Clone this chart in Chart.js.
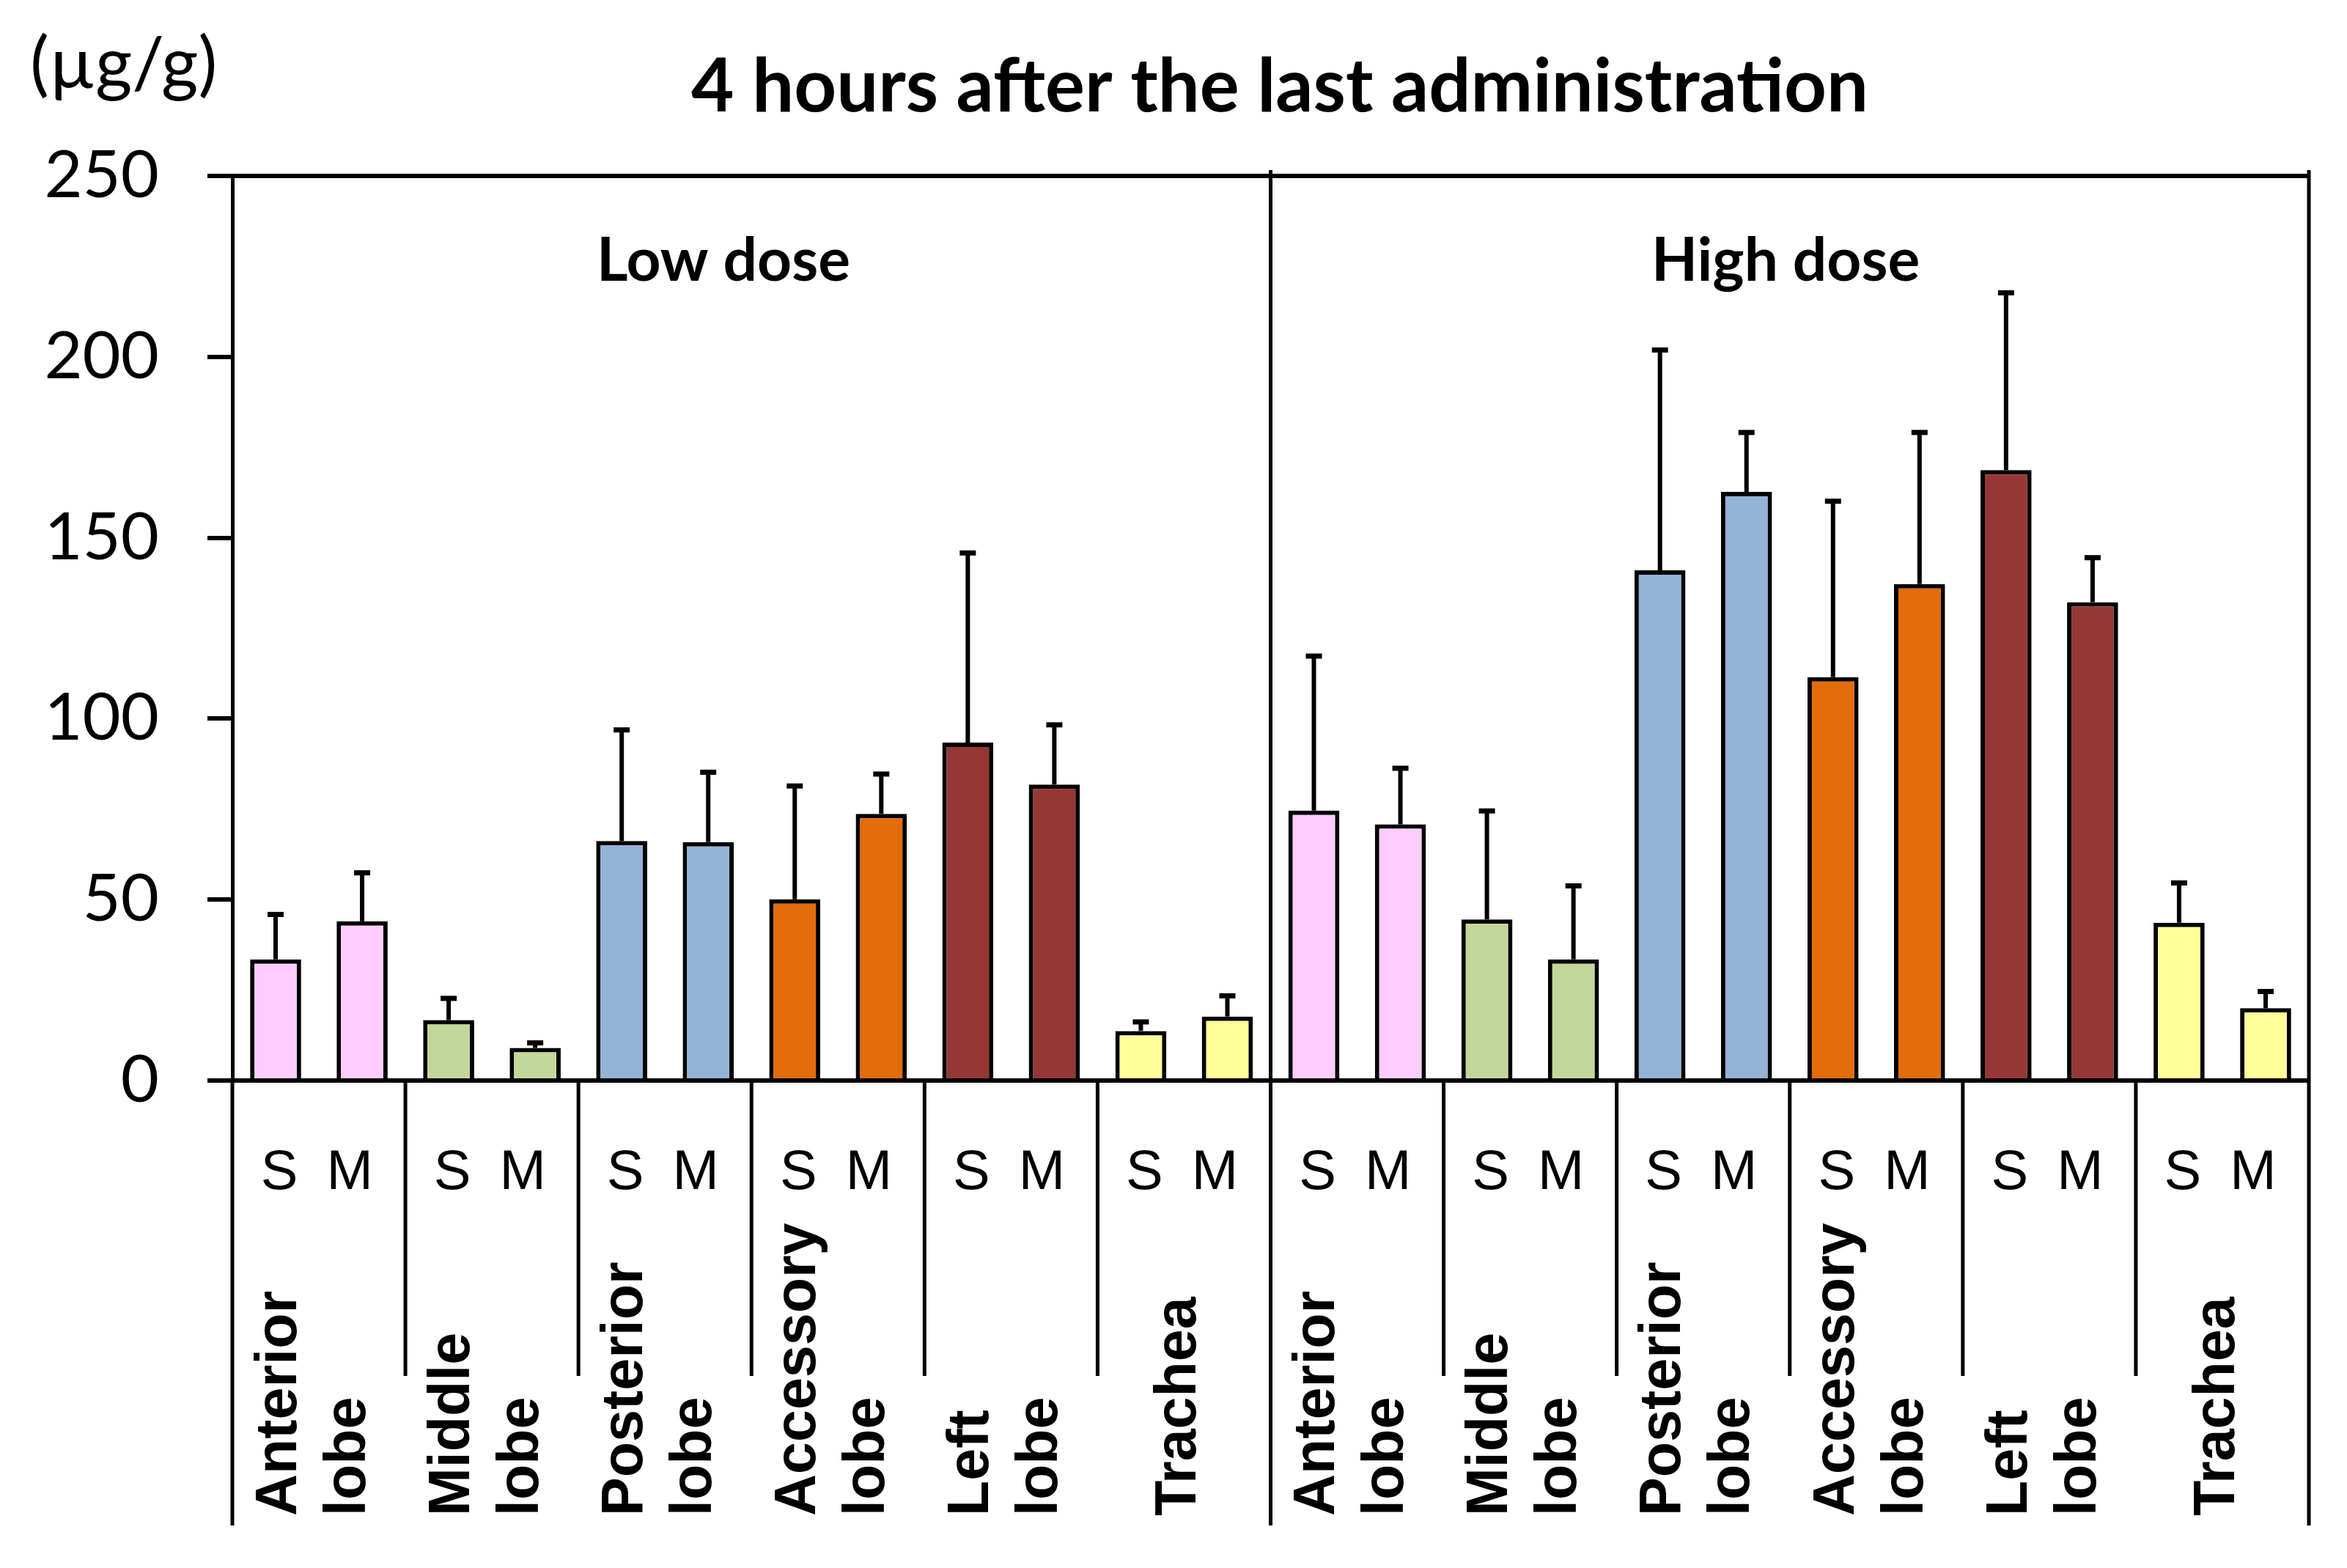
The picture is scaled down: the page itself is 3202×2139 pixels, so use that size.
<!DOCTYPE html>
<html>
<head>
<meta charset="utf-8">
<script src="https://cdn.jsdelivr.net/npm/chart.js@4.4.1/dist/chart.umd.min.js"></script>
<style>
  html, body { margin: 0; padding: 0; background: #fff; }
  #wrap { width: 3202px; height: 2139px; }
</style>
</head>
<body>
<div id="wrap"><canvas id="chart" width="3202" height="2139"></canvas></div>
<script>
// organs (one group of S/M bars each), repeated for both doses
var organs = [['Anterior', 'lobe'], ['Middle', 'lobe'], ['Posterior', 'lobe'], ['Accessory', 'lobe'], ['Left', 'lobe'], ['Trachea']];
var doses = ['Low dose', 'High dose'];
var forms = ['S', 'M'];
var organColors = ['#FFCCFF', '#C4D79B', '#95B3D7', '#E46C0A', '#953735', '#FFFF99'];

// mean concentration (µg/g) and SD (upper error bar)
var lowS = [33.5, 16.7, 66.2, 50.1, 93.4, 13.7];
var lowSsd = [12.4, 6.0, 30.7, 31.3, 52.4, 2.5];
var lowM = [44.0, 9.0, 65.9, 73.7, 81.8, 17.7];
var lowMsd = [13.4, 1.4, 19.3, 11.0, 16.5, 5.7];
var highS = [74.6, 44.5, 141.0, 111.5, 168.7, 43.6];
var highSsd = [42.7, 30.0, 60.9, 48.6, 49.0, 11.0];
var highM = [70.8, 33.5, 162.7, 137.2, 132.2, 20.0];
var highMsd = [15.5, 20.3, 16.4, 41.9, 12.3, 4.6];
var yTicks = [0, 50, 100, 150, 200, 250];

// flatten to 24 bars: dose -> organ -> S, M
var labels = [], values = [], sds = [], colors = [];
[[lowS, lowSsd, lowM, lowMsd], [highS, highSsd, highM, highMsd]].forEach(function (d) {
    organs.forEach(function (o, i) {
        labels.push(forms[0]); values.push(d[0][i]); sds.push(d[1][i]); colors.push(organColors[i]);
        labels.push(forms[1]); values.push(d[2][i]); sds.push(d[3][i]); colors.push(organColors[i]);
    });
});

var calibri = 'Lato, "Open Sans", sans-serif';
var arial = '"Liberation Sans", Arial, sans-serif';

var decor = {
    id: 'decor',
    afterDatasetsDraw: function (chart) {
        var ctx = chart.ctx, y = chart.scales.y;
        var meta = chart.getDatasetMeta(0);
        ctx.save();
        ctx.strokeStyle = '#000';
        meta.data.forEach(function (bar, i) {
            var top = y.getPixelForValue(values[i] + sds[i]);
            ctx.lineWidth = 6;
            ctx.beginPath();
            ctx.moveTo(bar.x, bar.y);
            ctx.lineTo(bar.x, top);
            ctx.stroke();
            ctx.lineWidth = 7;
            ctx.beginPath();
            ctx.moveTo(bar.x - 11, top);
            ctx.lineTo(bar.x + 11, top);
            ctx.stroke();
        });
        ctx.restore();
    },
    afterDraw: function (chart) {
        var ctx = chart.ctx, x = chart.scales.x, area = chart.chartArea;
        var nGroups = organs.length * doses.length;
        ctx.save();
        ctx.strokeStyle = '#000';
        ctx.fillStyle = '#000';

        // frame: top line
        ctx.lineWidth = 6;
        ctx.beginPath();
        ctx.moveTo(area.left - 34, area.top);
        ctx.lineTo(area.right, area.top);
        ctx.stroke();

        // group separators below the axis, dose dividers through the plot
        for (var g = 0; g <= nGroups; g++) {
            var px;
            if (g === 0) px = area.left;
            else if (g === nGroups) px = area.right;
            else px = (x.getPixelForValue(2 * g - 1) + x.getPixelForValue(2 * g)) / 2;
            var major = g % organs.length === 0;
            ctx.lineWidth = 5;
            ctx.beginPath();
            ctx.moveTo(px, major ? (g === 0 ? area.bottom : area.top - 8) : area.bottom);
            ctx.lineTo(px, major ? 2081 : 1877);
            ctx.stroke();
        }

        // S / M labels under each bar
        ctx.font = '76px ' + arial;
        ctx.textAlign = 'center';
        ctx.textBaseline = 'alphabetic';
        labels.forEach(function (t, i) {
            var bx = x.getPixelForValue(i);
            ctx.fillText(t, bx + (i % 2 === 0 ? 5 : -17), 1622);
        });

        // organ names, rotated
        ctx.font = 'bold 79px ' + arial;
        ctx.textAlign = 'left';
        ctx.textBaseline = 'middle';
        for (var k = 0; k < nGroups; k++) {
            var cx = (x.getPixelForValue(2 * k) + x.getPixelForValue(2 * k + 1)) / 2;
            var lines = organs[k % organs.length];
            ctx.save();
            ctx.translate(cx - 6, 2068);
            ctx.rotate(-Math.PI / 2);
            lines.forEach(function (t, j) {
                ctx.fillText(t, 0, (j - (lines.length - 1) / 2) * 94);
            });
            ctx.restore();
        }

        // dose labels
        ctx.font = 'bold 82px ' + calibri;
        ctx.textAlign = 'center';
        ctx.textBaseline = 'alphabetic';
        var w = area.right - area.left;
        ctx.fillText(doses[0], area.left + 0.2365 * w, 383);
        ctx.fillText(doses[1], area.left + 0.748 * w, 383);

        // title and unit
        ctx.font = 'bold 101px ' + calibri;
        ctx.fillText('4 hours after the last administration', 1746, 152);
        ctx.font = '97px ' + calibri;
        ctx.textAlign = 'left';
        ctx.fillText('(µg/g)', 41, 120);
        ctx.restore();
    }
};

new Chart(document.getElementById('chart'), {
    type: 'bar',
    data: {
        labels: labels,
        datasets: [{
            data: values,
            backgroundColor: colors,
            borderColor: '#000',
            borderWidth: 6,
            borderSkipped: 'bottom',
            categoryPercentage: 1,
            barPercentage: 0.59
        }]
    },
    options: {
        responsive: false,
        animation: false,
        devicePixelRatio: 1,
        layout: { padding: { top: 240, right: 52, left: 0, bottom: 0 } },
        plugins: { legend: { display: false }, tooltip: { enabled: false }, title: { display: false } },
        scales: {
            x: {
                grid: { display: false },
                border: { display: true, color: '#000', width: 6 },
                ticks: { display: false },
                afterFit: function (s) { s.height = 665; }
            },
            y: {
                min: 0,
                max: 250,
                afterBuildTicks: function (s) { s.ticks = yTicks.map(function (v) { return { value: v }; }); },
                grid: { drawOnChartArea: false, color: '#000', lineWidth: 6, tickLength: 34 },
                border: { display: true, color: '#000', width: 5 },
                ticks: { color: '#000', font: { family: calibri, size: 90 }, padding: 66 },
                afterFit: function (s) { s.width = 317; }
            }
        }
    },
    plugins: [decor]
});
</script>
</body>
</html>
